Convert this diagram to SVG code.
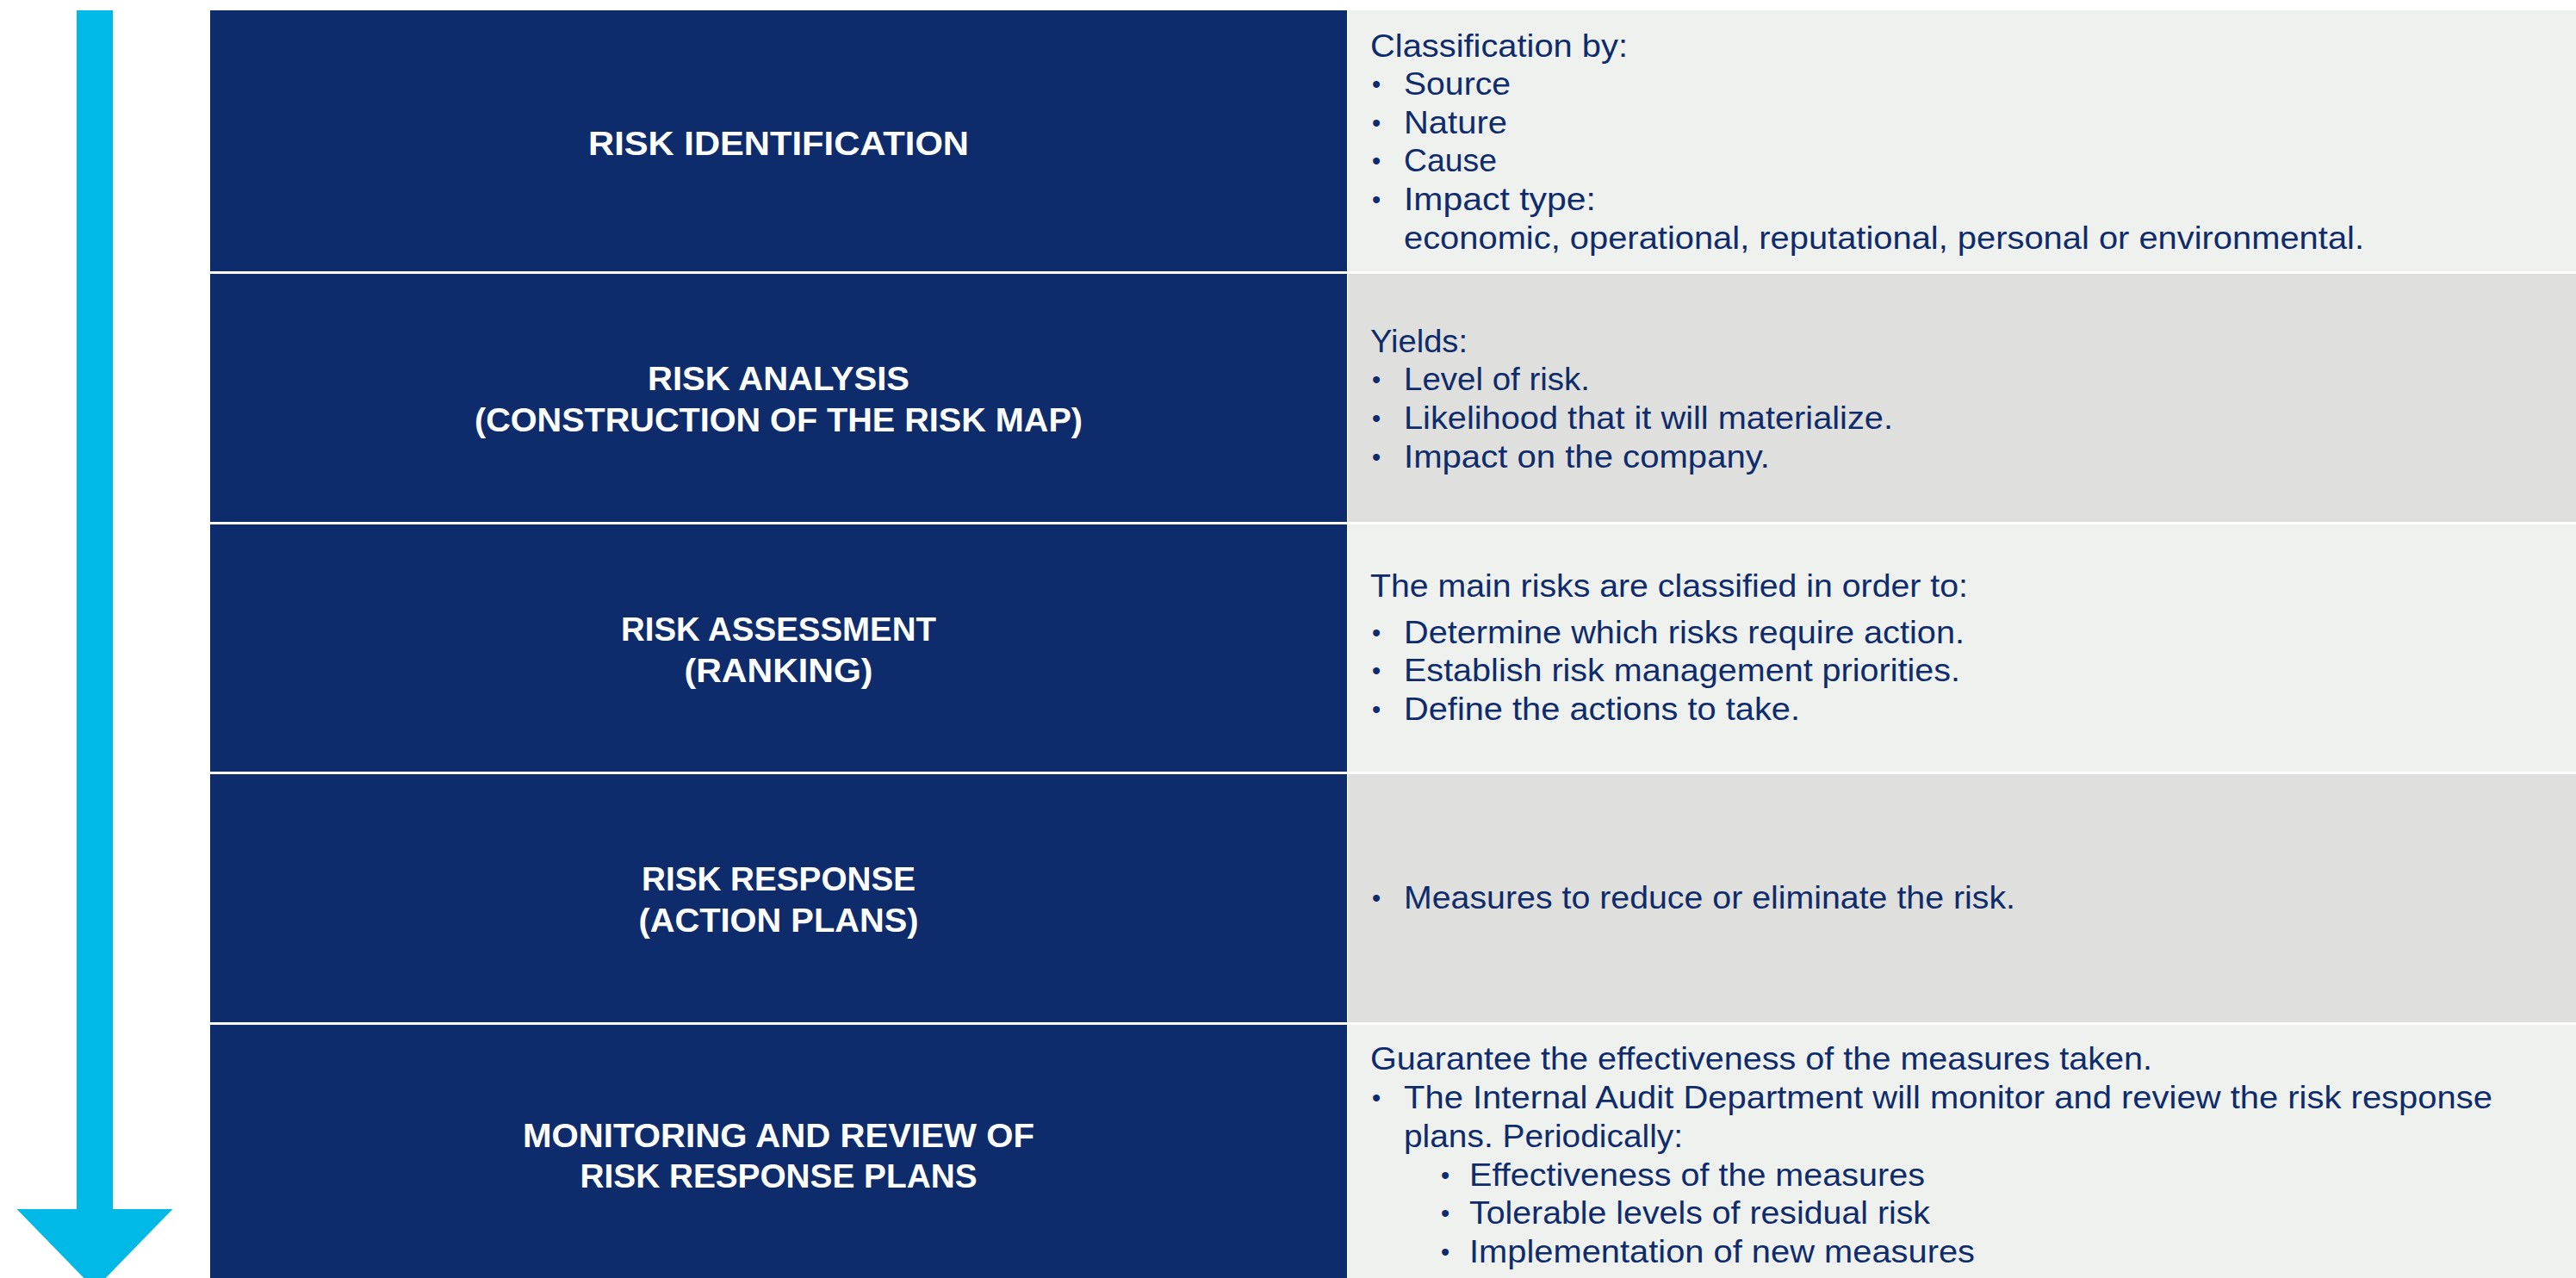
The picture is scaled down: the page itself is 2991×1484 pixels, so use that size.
<svg xmlns="http://www.w3.org/2000/svg" width="2991" height="1484" viewBox="0 0 2991 1484">
<style>
.lc{fill:#0E2C6C}
.rl{fill:#EFF1EF}
.rd{fill:#DFDFDD}
.t{font-family:"Liberation Sans",Arial,sans-serif;font-weight:bold;font-size:39px;fill:#FFFFFF;text-anchor:middle}
.b{font-family:"Liberation Sans",Arial,sans-serif;font-size:37px;fill:#0E2C6C}
.d{font-family:"Liberation Sans",Arial,sans-serif;font-size:29px;fill:#0E2C6C}
</style>
<defs>
<marker id="head" markerUnits="userSpaceOnUse" viewBox="0 -90.5 93 181" refX="0" refY="0" markerWidth="93" markerHeight="181" orient="auto">
<path d="M0,-90.5 L93,0 L0,90.5 Z" fill="#00B9E7"/>
</marker>
</defs>
<rect x="0" y="0" width="2991" height="1484" fill="#FFFFFF"/>

<g id="connectors">
<line x1="110" y1="12" x2="110" y2="1404" stroke="#00B9E7" stroke-width="42" marker-end="url(#head)"/>
</g>

<g id="node-identification">
<rect class="lc" x="244" y="12" width="1320" height="303"/>
<rect class="rl" x="1565" y="12" width="1426" height="303"/>
<text class="t" x="904" y="180" textLength="442" lengthAdjust="spacingAndGlyphs">RISK IDENTIFICATION</text>
<text class="b" x="1591" y="66" textLength="299" lengthAdjust="spacingAndGlyphs">Classification by:</text>
<text class="d" x="1593" y="108">•</text>
<text class="b" x="1630" y="110" textLength="124" lengthAdjust="spacingAndGlyphs">Source</text>
<text class="d" x="1593" y="153">•</text>
<text class="b" x="1630" y="155" textLength="120" lengthAdjust="spacingAndGlyphs">Nature</text>
<text class="d" x="1593" y="197">•</text>
<text class="b" x="1630" y="199" textLength="108" lengthAdjust="spacingAndGlyphs">Cause</text>
<text class="d" x="1593" y="242">•</text>
<text class="b" x="1630" y="244" textLength="223" lengthAdjust="spacingAndGlyphs">Impact type:</text>
<text class="b" x="1630" y="289" textLength="1115" lengthAdjust="spacingAndGlyphs">economic, operational, reputational, personal or environmental.</text>
</g>

<g id="node-analysis">
<rect class="lc" x="244" y="318" width="1320" height="288"/>
<rect class="rd" x="1565" y="318" width="1426" height="288"/>
<text class="t" x="904" y="453" textLength="304" lengthAdjust="spacingAndGlyphs">RISK ANALYSIS</text>
<text class="t" x="904" y="501" textLength="706" lengthAdjust="spacingAndGlyphs">(CONSTRUCTION OF THE RISK MAP)</text>
<text class="b" x="1591" y="409" textLength="113" lengthAdjust="spacingAndGlyphs">Yields:</text>
<text class="d" x="1593" y="451">•</text>
<text class="b" x="1630" y="453" textLength="216" lengthAdjust="spacingAndGlyphs">Level of risk.</text>
<text class="d" x="1593" y="496">•</text>
<text class="b" x="1630" y="498" textLength="568" lengthAdjust="spacingAndGlyphs">Likelihood that it will materialize.</text>
<text class="d" x="1593" y="541">•</text>
<text class="b" x="1630" y="543" textLength="425" lengthAdjust="spacingAndGlyphs">Impact on the company.</text>
</g>

<g id="node-assessment">
<rect class="lc" x="244" y="609" width="1320" height="287"/>
<rect class="rl" x="1565" y="609" width="1426" height="287"/>
<text class="t" x="904" y="744" textLength="366" lengthAdjust="spacingAndGlyphs">RISK ASSESSMENT</text>
<text class="t" x="904" y="792" textLength="219" lengthAdjust="spacingAndGlyphs">(RANKING)</text>
<text class="b" x="1591" y="693" textLength="694" lengthAdjust="spacingAndGlyphs">The main risks are classified in order to:</text>
<text class="d" x="1593" y="745">•</text>
<text class="b" x="1630" y="747" textLength="651" lengthAdjust="spacingAndGlyphs">Determine which risks require action.</text>
<text class="d" x="1593" y="789">•</text>
<text class="b" x="1630" y="791" textLength="646" lengthAdjust="spacingAndGlyphs">Establish risk management priorities.</text>
<text class="d" x="1593" y="834">•</text>
<text class="b" x="1630" y="836" textLength="460" lengthAdjust="spacingAndGlyphs">Define the actions to take.</text>
</g>

<g id="node-response">
<rect class="lc" x="244" y="899" width="1320" height="288"/>
<rect class="rd" x="1565" y="899" width="1426" height="288"/>
<text class="t" x="904" y="1034" textLength="318" lengthAdjust="spacingAndGlyphs">RISK RESPONSE</text>
<text class="t" x="904" y="1082" textLength="325" lengthAdjust="spacingAndGlyphs">(ACTION PLANS)</text>
<text class="d" x="1593" y="1053">•</text>
<text class="b" x="1630" y="1055" textLength="710" lengthAdjust="spacingAndGlyphs">Measures to reduce or eliminate the risk.</text>
</g>

<g id="node-monitoring">
<rect class="lc" x="244" y="1190" width="1320" height="294"/>
<rect class="rl" x="1565" y="1190" width="1426" height="294"/>
<text class="t" x="904" y="1332" textLength="594" lengthAdjust="spacingAndGlyphs">MONITORING AND REVIEW OF</text>
<text class="t" x="904" y="1379" textLength="461" lengthAdjust="spacingAndGlyphs">RISK RESPONSE PLANS</text>
<text class="b" x="1591" y="1242" textLength="908" lengthAdjust="spacingAndGlyphs">Guarantee the effectiveness of the measures taken.</text>
<text class="d" x="1593" y="1285">•</text>
<text class="b" x="1630" y="1287" textLength="1264" lengthAdjust="spacingAndGlyphs">The Internal Audit Department will monitor and review the risk response</text>
<text class="b" x="1630" y="1332" textLength="324" lengthAdjust="spacingAndGlyphs">plans. Periodically:</text>
<text class="d" x="1673" y="1375">•</text>
<text class="b" x="1706" y="1377" textLength="529" lengthAdjust="spacingAndGlyphs">Effectiveness of the measures</text>
<text class="d" x="1673" y="1419">•</text>
<text class="b" x="1706" y="1421" textLength="535" lengthAdjust="spacingAndGlyphs">Tolerable levels of residual risk</text>
<text class="d" x="1673" y="1464">•</text>
<text class="b" x="1706" y="1466" textLength="587" lengthAdjust="spacingAndGlyphs">Implementation of new measures</text>
</g>
</svg>
